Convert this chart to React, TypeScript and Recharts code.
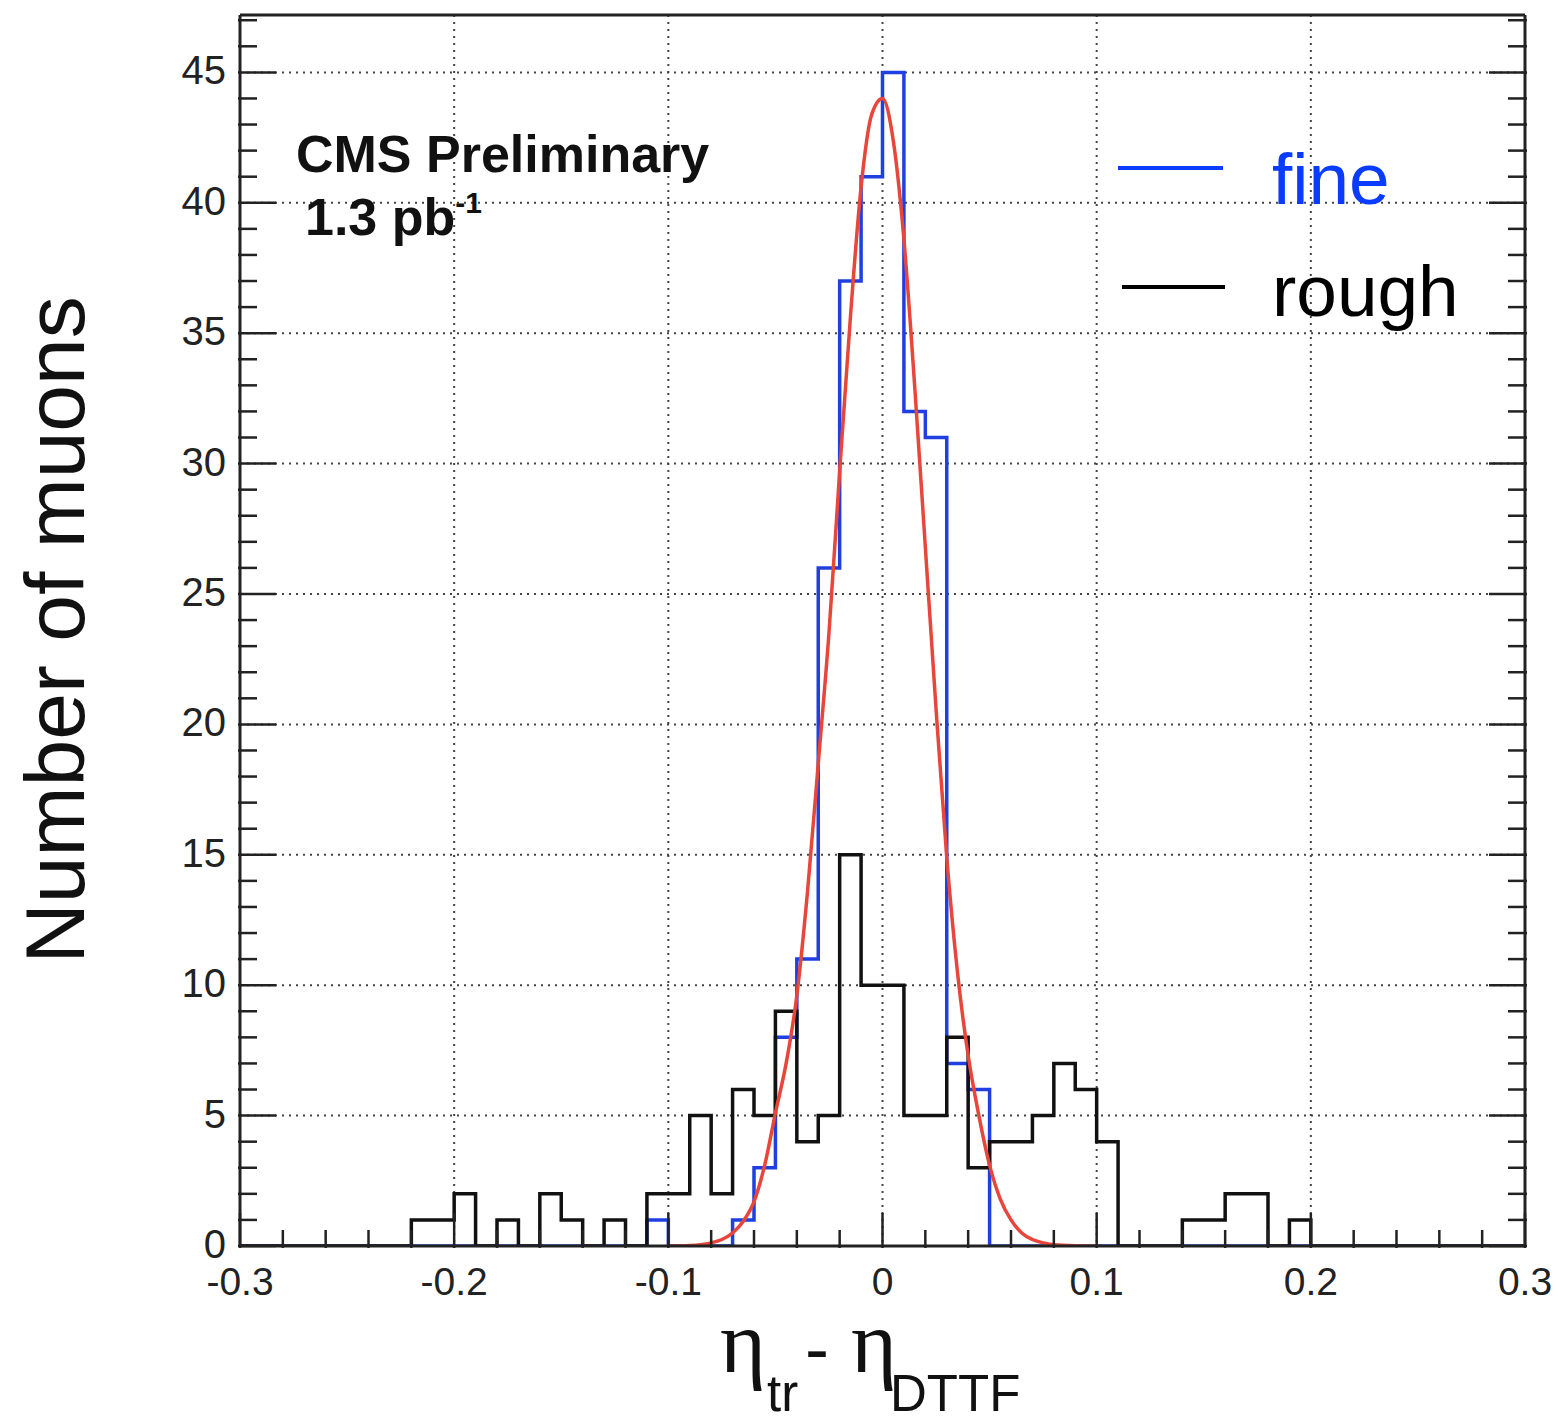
import { ComposedChart, Line, XAxis, YAxis, CartesianGrid } from "recharts"

// histogram binning: 60 bins of width 0.01 from -0.3 to 0.3
const binStart = -0.3
const binWidth = 0.01

const fineCounts = [
  0, 0, 0, 0, 0, 0, 0, 0, 0, 0,
  0, 0, 0, 0, 0, 0, 0, 0, 0, 1,
  0, 0, 0, 1, 3, 8, 11, 26, 37, 41,
  45, 32, 31, 7, 6, 0, 0, 0, 0, 0,
  0, 0, 0, 0, 0, 0, 0, 0, 0, 0,
  0, 0, 0, 0, 0, 0, 0, 0, 0, 0,
]

const roughCounts = [
  0, 0, 0, 0, 0, 0, 0, 0, 1, 1,
  2, 0, 1, 0, 2, 1, 0, 1, 0, 2,
  2, 5, 2, 6, 5, 9, 4, 5, 15, 10,
  10, 5, 5, 8, 3, 4, 4, 5, 7, 6,
  4, 0, 0, 0, 1, 1, 2, 2, 0, 1,
  0, 0, 0, 0, 0, 0, 0, 0, 0, 0,
]

// gaussian fit curve
const fitX = [
  -0.1, -0.09, -0.085, -0.08, -0.075, -0.07, -0.065, -0.06, -0.055, -0.05,
  -0.045, -0.04, -0.035, -0.03, -0.025, -0.02, -0.015, -0.01, -0.005, 0,
  0.005, 0.01, 0.015, 0.02, 0.025, 0.03, 0.035, 0.04, 0.045, 0.05,
  0.055, 0.06, 0.065, 0.07, 0.075, 0.08, 0.09, 0.1,
]
const fitY = [
  0, 0.02, 0.05, 0.12, 0.25, 0.5, 0.95, 1.7, 3.1, 5.1,
  7.0, 9.6, 13.6, 18.5, 23.5, 29.7, 35.6, 40.6, 43.4, 44.0,
  42.4, 38.6, 33.0, 26.8, 20.6, 14.9, 10.5, 7.3, 5.0, 3.1,
  1.8, 1.0, 0.5, 0.25, 0.12, 0.05, 0.01, 0,
]

const xMajorTicks = [-0.3, -0.2, -0.1, 0, 0.1, 0.2, 0.3]
const xMinorTicks = [
  -0.3, -0.28, -0.26, -0.24, -0.22, -0.2, -0.18, -0.16, -0.14, -0.12, -0.1,
  -0.08, -0.06, -0.04, -0.02, 0, 0.02, 0.04, 0.06, 0.08, 0.1,
  0.12, 0.14, 0.16, 0.18, 0.2, 0.22, 0.24, 0.26, 0.28, 0.3,
]
const yMajorTicks = [0, 5, 10, 15, 20, 25, 30, 35, 40, 45]
const yMinorTicks = [
  0, 1, 2, 3, 4, 5, 6, 7, 8, 9, 10, 11, 12, 13, 14, 15, 16, 17, 18, 19, 20, 21, 22, 23,
  24, 25, 26, 27, 28, 29, 30, 31, 32, 33, 34, 35, 36, 37, 38, 39, 40, 41, 42, 43, 44, 45, 46, 47,
]

const sans = "'Liberation Sans', Arial, Helvetica, sans-serif"
const serif = "'Liberation Serif', 'Times New Roman', serif"
const ink = "#222"
const blue = "#1f3fe0"
const red = "#e8463a"

const toSteps = (counts: number[]) => {
  const pts = counts.map((c, i) => ({ x: +(binStart + i * binWidth).toFixed(2), y: c }))
  pts.push({ x: +(binStart + counts.length * binWidth).toFixed(2), y: counts[counts.length - 1] })
  return pts
}

const fineSteps = toSteps(fineCounts)
const roughSteps = toSteps(roughCounts)
const fitData = fitX.map((x, i) => ({ x, y: fitY[i] }))

const isMajorX = (v: number) => xMajorTicks.some((t) => Math.abs(t - v) < 1e-6)
const isMajorY = (v: number) => yMajorTicks.some((t) => Math.abs(t - v) < 1e-6)

function BottomTick(props: any) {
  const { x, y, payload } = props
  const v = payload.value as number
  const major = isMajorX(v)
  return (
    <g>
      <line x1={x} x2={x} y1={y} y2={y - (major ? 35 : 18)} stroke={ink} strokeWidth={2.5} />
      {major && (
        <text x={x} y={y + 47} textAnchor="middle" fontSize={39} fill={ink} fontFamily={sans}>
          {String(v)}
        </text>
      )}
    </g>
  )
}

function TopTick(props: any) {
  const { x, y, payload } = props
  const major = isMajorX(payload.value)
  return <line x1={x} x2={x} y1={y} y2={y + (major ? 35 : 18)} stroke={ink} strokeWidth={2.5} />
}

function LeftTick(props: any) {
  const { x, y, payload } = props
  const v = payload.value as number
  const major = isMajorY(v)
  return (
    <g>
      <line x1={x} x2={x + (major ? 38 : 19)} y1={y} y2={y} stroke={ink} strokeWidth={2.5} />
      {major && (
        <text x={x - 12} y={y + 12} textAnchor="end" fontSize={40} fill={ink} fontFamily={sans}>
          {String(v)}
        </text>
      )}
    </g>
  )
}

function RightTick(props: any) {
  const { x, y, payload } = props
  const major = isMajorY(payload.value)
  return <line x1={x} x2={x - (major ? 38 : 19)} y1={y} y2={y} stroke={ink} strokeWidth={2.5} />
}

export default function App() {
  return (
    <div style={{ position: "absolute", left: 0, top: 0, width: 1558, height: 1424, background: "#fff" }}>
      <ComposedChart
        width={1558}
        height={1424}
        margin={{ top: 14, right: 32, bottom: 118, left: 140 }}
      >
        <CartesianGrid
          stroke="#444"
          strokeWidth={2}
          strokeDasharray="2 5"
          horizontalValues={yMajorTicks.slice(1)}
          verticalValues={xMajorTicks.slice(1, -1)}
        />
        <XAxis
          dataKey="x"
          type="number"
          domain={[-0.3, 0.3]}
          ticks={xMinorTicks}
          interval={0}
          allowDataOverflow
          height={60}
          tickSize={0}
          tickLine={false}
          axisLine={{ stroke: ink, strokeWidth: 3 }}
          tick={<BottomTick />}
        />
        <XAxis
          xAxisId="top"
          orientation="top"
          type="number"
          domain={[-0.3, 0.3]}
          ticks={xMinorTicks}
          interval={0}
          allowDataOverflow
          height={1}
          tickSize={0}
          tickLine={false}
          axisLine={{ stroke: ink, strokeWidth: 3 }}
          tick={<TopTick />}
        />
        <YAxis
          type="number"
          domain={[0, 47.2]}
          ticks={yMinorTicks}
          interval={0}
          allowDataOverflow
          width={100}
          tickSize={0}
          tickLine={false}
          axisLine={{ stroke: ink, strokeWidth: 3 }}
          tick={<LeftTick />}
        />
        <YAxis
          yAxisId="right"
          orientation="right"
          type="number"
          domain={[0, 47.2]}
          ticks={yMinorTicks}
          interval={0}
          allowDataOverflow
          width={1}
          tickSize={0}
          tickLine={false}
          axisLine={{ stroke: ink, strokeWidth: 3 }}
          tick={<RightTick />}
        />
        <Line
          data={fineSteps}
          dataKey="y"
          type="stepAfter"
          stroke={blue}
          strokeWidth={3.5}
          dot={false}
          activeDot={false}
          isAnimationActive={false}
        />
        <Line
          data={roughSteps}
          dataKey="y"
          type="stepAfter"
          stroke="#111"
          strokeWidth={3.5}
          dot={false}
          activeDot={false}
          isAnimationActive={false}
        />
        <Line
          data={fitData}
          dataKey="y"
          type="monotone"
          stroke={red}
          strokeWidth={3.5}
          dot={false}
          activeDot={false}
          isAnimationActive={false}
        />
      </ComposedChart>

      {/* labels, legend and axis titles */}
      <svg
        width={1558}
        height={1424}
        style={{ position: "absolute", left: 0, top: 0, pointerEvents: "none" }}
      >
        <text x={296} y={172} fontSize={52} fontWeight="bold" fontFamily={sans} fill="#111">
          CMS Preliminary
        </text>
        <text x={305} y={235} fontSize={52} fontWeight="bold" fontFamily={sans} fill="#111">
          1.3 pb
          <tspan fontSize={30} dy={-22}>-1</tspan>
        </text>

        <line x1={1118} x2={1223} y1={168} y2={168} stroke="#0a3cff" strokeWidth={4} />
        <text x={1272} y={204} fontSize={73} fontFamily={sans} fill="#0a3cff">
          fine
        </text>
        <line x1={1122} x2={1225} y1={287} y2={287} stroke="#000" strokeWidth={4} />
        <text x={1272} y={316} fontSize={73} fontFamily={sans} fill="#000">
          rough
        </text>

        <text
          transform="translate(84 630) rotate(-90)"
          textAnchor="middle"
          fontSize={84}
          fontFamily={sans}
          fill="#111"
        >
          Number of muons
        </text>

        <text x={720} y={1372} fontSize={88} fontFamily={serif} fill="#111">
          η
        </text>
        <text x={767} y={1411} fontSize={51} fontFamily={sans} fill="#111">
          tr
        </text>
        <text x={805} y={1373} fontSize={72} fontFamily={sans} fill="#111">
          -
        </text>
        <text x={851} y={1372} fontSize={88} fontFamily={serif} fill="#111">
          η
        </text>
        <text x={890} y={1411} fontSize={51} fontFamily={sans} fill="#111">
          DTTF
        </text>
      </svg>
    </div>
  )
}
